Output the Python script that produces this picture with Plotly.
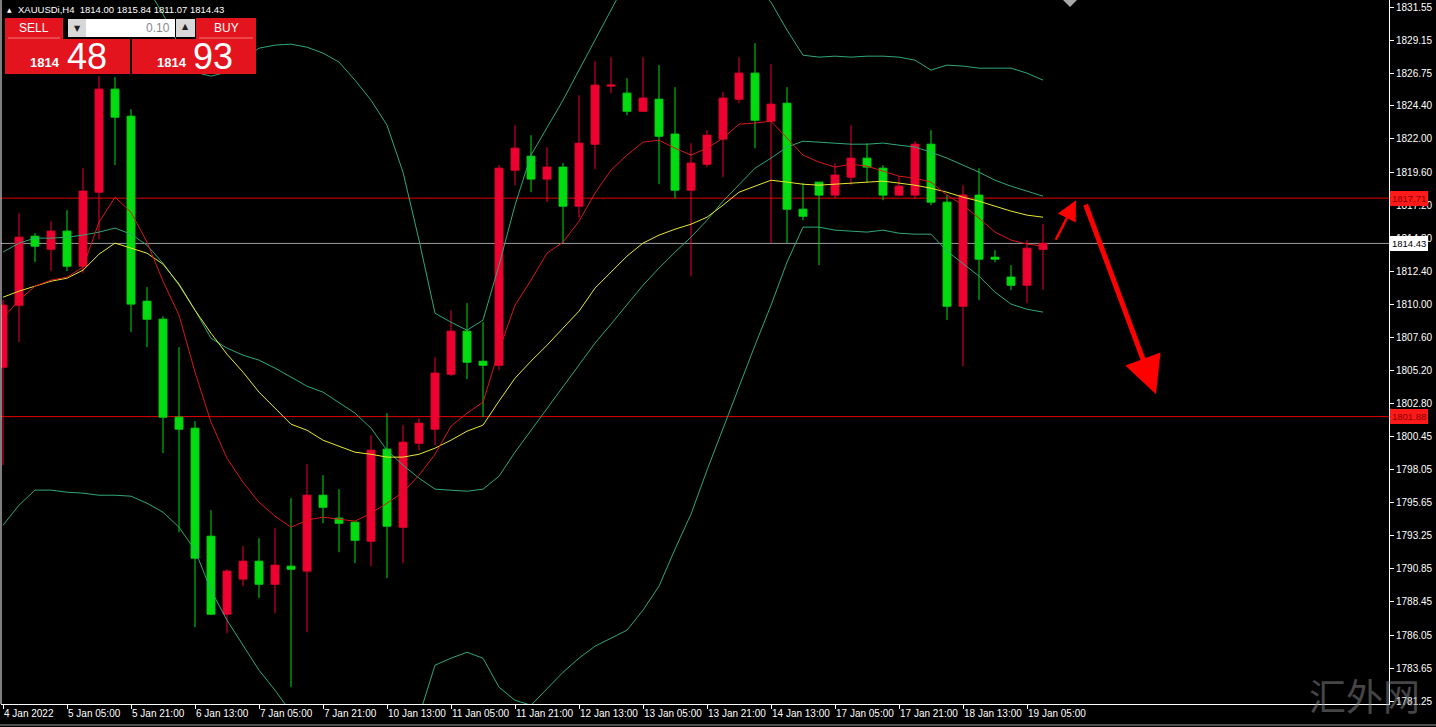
import plotly.graph_objects as go

# ---------------- data ----------------
symbol = "XAUUSDi,H4"
tick_idx = [0, 4, 8, 12, 16, 20, 24, 28, 32, 36, 40, 44, 48, 52, 56, 60, 64]
tick_text = ["4 Jan 2022", "5 Jan 05:00", "5 Jan 21:00", "6 Jan 13:00", "7 Jan 05:00",
             "7 Jan 21:00", "10 Jan 13:00", "11 Jan 05:00", "11 Jan 21:00", "12 Jan 13:00",
             "13 Jan 05:00", "13 Jan 21:00", "14 Jan 13:00", "17 Jan 05:00", "17 Jan 21:00",
             "18 Jan 13:00", "19 Jan 05:00"]

price_ticks = [1831.55, 1829.15, 1826.75, 1824.40, 1822.00, 1819.60, 1817.20, 1814.80,
               1812.40, 1810.00, 1807.60, 1805.20, 1802.80, 1800.45, 1798.05, 1795.65,
               1793.25, 1790.85, 1788.45, 1786.05, 1783.65, 1781.25]

open_ = [1805.46, 1809.95, 1814.95, 1814.01, 1815.32, 1812.78, 1818.14, 1825.61, 1823.65, 1810.24,
         1808.94, 1801.84, 1801.04, 1793.21, 1787.56, 1790.10, 1791.40, 1789.73, 1791.04, 1790.68,
         1796.18, 1794.52, 1794.23, 1792.85, 1799.52, 1793.86, 1799.95, 1800.97, 1804.95, 1808.07,
         1805.89, 1805.60, 1819.74, 1820.75, 1819.09, 1819.96, 1817.13, 1821.62, 1825.83, 1825.32,
         1824.01, 1824.88, 1822.35, 1818.29, 1820.17, 1821.99, 1824.88, 1826.77, 1823.29, 1824.59,
         1816.91, 1818.87, 1817.93, 1819.23, 1820.61, 1819.88, 1817.93, 1817.93, 1821.62, 1817.42,
         1809.88, 1817.93, 1813.43, 1811.99, 1811.40, 1814.00]
high = [1810.32, 1816.62, 1815.17, 1816.04, 1816.84, 1819.88, 1826.55, 1826.48, 1824.16, 1811.26,
        1809.16, 1806.91, 1801.55, 1795.10, 1790.82, 1792.49, 1793.07, 1793.79, 1795.97, 1798.43,
        1797.63, 1796.62, 1794.30, 1800.53, 1802.13, 1801.26, 1801.76, 1806.18, 1809.59, 1810.10,
        1808.72, 1820.10, 1823.00, 1822.27, 1821.40, 1820.25, 1825.17, 1827.64, 1827.93, 1826.41,
        1827.93, 1827.35, 1825.75, 1821.69, 1822.64, 1825.39, 1827.93, 1828.94, 1827.42, 1825.75,
        1818.80, 1818.87, 1820.25, 1823.00, 1821.69, 1820.10, 1819.30, 1821.84, 1822.64, 1817.93,
        1818.65, 1819.88, 1813.94, 1812.85, 1814.67, 1815.84]
low = [1798.36, 1807.27, 1813.07, 1812.42, 1812.42, 1812.27, 1814.74, 1820.10, 1808.00, 1806.91,
       1799.23, 1793.50, 1786.62, 1787.49, 1786.18, 1789.59, 1788.72, 1787.63, 1782.27, 1786.25,
       1794.15, 1792.05, 1791.26, 1791.04, 1790.17, 1791.26, 1799.44, 1799.81, 1804.81, 1804.59,
       1801.84, 1805.24, 1818.65, 1818.14, 1817.42, 1814.45, 1816.26, 1819.81, 1825.32, 1823.72,
       1823.94, 1818.72, 1817.71, 1812.05, 1819.96, 1819.23, 1824.59, 1821.33, 1814.45, 1814.45,
       1816.11, 1812.85, 1817.71, 1818.65, 1818.87, 1817.56, 1817.85, 1817.64, 1817.20, 1808.87,
       1805.53, 1810.32, 1813.07, 1811.04, 1810.10, 1811.07]
close = [1809.95, 1814.88, 1814.23, 1815.32, 1812.78, 1818.22, 1825.61, 1823.58, 1810.03, 1808.94,
         1801.84, 1800.97, 1791.62, 1787.56, 1790.68, 1791.40, 1789.73, 1791.11, 1790.82, 1796.18,
         1795.31, 1794.15, 1792.92, 1799.44, 1793.94, 1800.02, 1801.40, 1805.03, 1808.07, 1805.82,
         1805.60, 1819.88, 1821.33, 1819.09, 1819.96, 1817.13, 1821.69, 1825.90, 1825.90, 1824.01,
         1824.96, 1822.20, 1818.29, 1820.25, 1822.27, 1824.96, 1826.77, 1823.36, 1824.52, 1816.91,
         1816.40, 1817.93, 1819.38, 1820.61, 1819.96, 1817.93, 1818.58, 1821.62, 1817.42, 1809.88,
         1817.93, 1813.29, 1813.29, 1811.40, 1814.08, 1814.43]

ma_fast = [1809.01, 1810.32, 1811.33, 1811.77, 1811.98, 1812.71, 1815.97, 1817.78, 1816.69, 1814.52,
           1811.69, 1809.23, 1805.10, 1801.47, 1798.86, 1797.12, 1795.67, 1794.66, 1793.86, 1794.37,
           1794.59, 1794.44, 1794.30, 1794.88, 1795.60, 1796.40, 1797.63, 1799.15, 1801.18, 1802.13,
           1802.92, 1806.69, 1809.95, 1811.77, 1813.72, 1814.52, 1816.04, 1818.07, 1819.74, 1820.83,
           1821.77, 1821.91, 1821.33, 1820.83, 1821.33, 1822.06, 1823.07, 1823.15, 1823.29, 1822.06,
           1820.83, 1820.32, 1819.96, 1820.17, 1820.03, 1819.67, 1819.30, 1819.16, 1818.87, 1817.93,
           1817.20, 1816.26, 1815.25, 1814.67, 1814.38, 1814.23]
ma_slow = [1810.53, 1810.97, 1811.33, 1811.69, 1811.91, 1812.49, 1813.65, 1814.45, 1814.09, 1813.72,
           1812.93, 1811.48, 1809.59, 1807.92, 1806.40, 1805.10, 1803.65, 1802.49, 1801.33, 1800.89,
           1800.17, 1799.73, 1799.30, 1799.15, 1798.94, 1798.94, 1799.15, 1799.59, 1800.17, 1800.82,
           1801.26, 1803.00, 1804.66, 1805.90, 1807.05, 1808.29, 1809.52, 1811.19, 1812.35, 1813.51,
           1814.45, 1815.03, 1815.46, 1815.82, 1816.33, 1817.20, 1818.14, 1818.58, 1819.01, 1818.87,
           1818.72, 1818.65, 1818.72, 1818.80, 1818.87, 1818.94, 1818.80, 1818.65, 1818.43, 1818.14,
           1817.78, 1817.49, 1817.13, 1816.77, 1816.48, 1816.33]
bb_mid = [1813.80, 1814.45, 1814.81, 1814.81, 1814.88, 1815.03, 1815.25, 1815.54, 1815.10, 1814.30,
          1813.00, 1811.40, 1809.59, 1807.56, 1806.84, 1806.33, 1805.97, 1805.39, 1804.74, 1804.08,
          1803.65, 1802.92, 1802.13, 1801.04, 1799.44, 1798.36, 1797.42, 1796.62, 1796.55, 1796.47,
          1796.62, 1797.56, 1799.30, 1800.89, 1802.49, 1804.08, 1805.68, 1807.20, 1808.58, 1809.95,
          1811.40, 1812.64, 1813.80, 1814.88, 1816.11, 1817.49, 1818.72, 1819.88, 1820.61, 1821.41,
          1821.84, 1821.77, 1821.70, 1821.62, 1821.62, 1821.70, 1821.55, 1821.41, 1821.04, 1820.61,
          1820.10, 1819.59, 1819.01, 1818.58, 1818.22, 1817.85]
bb_up = [1833.58, 1833.44, 1833.07, 1833.07, 1833.36, 1833.73, 1834.31, 1834.89, 1834.09, 1833.00,
         1831.05, 1828.80, 1826.84, 1826.55, 1826.84, 1827.71, 1828.58, 1828.80, 1828.87, 1828.65,
         1828.22, 1827.57, 1826.26, 1824.81, 1823.00, 1819.59, 1814.67, 1809.37, 1808.72, 1808.14,
         1808.87, 1812.85, 1817.20, 1820.83, 1822.86, 1824.81, 1826.99, 1829.16, 1831.34, 1833.51,
         1834.96, 1835.68, 1835.32, 1834.96, 1834.60, 1834.23, 1833.87, 1833.15, 1831.91, 1829.89,
         1828.07, 1827.93, 1828.00, 1827.93, 1828.00, 1828.00, 1827.93, 1827.71, 1826.99, 1827.35,
         1827.28, 1827.13, 1827.13, 1827.13, 1826.77, 1826.26]
bb_low = [1794.01, 1795.46, 1796.55, 1796.55, 1796.40, 1796.33, 1796.18, 1796.18, 1796.11, 1795.60,
          1794.95, 1793.86, 1792.20, 1789.30, 1787.12, 1785.31, 1783.50, 1782.05, 1780.45, 1779.51,
          1779.08, 1778.28, 1777.99, 1777.27, 1775.89, 1777.12, 1780.16, 1783.86, 1784.37, 1784.80,
          1784.37, 1782.27, 1781.32, 1780.96, 1782.12, 1783.35, 1784.37, 1785.24, 1785.82, 1786.40,
          1787.85, 1789.59, 1792.27, 1794.81, 1797.99, 1801.04, 1803.94, 1807.05, 1809.95, 1813.07,
          1815.61, 1815.61, 1815.39, 1815.32, 1815.25, 1815.39, 1815.17, 1815.10, 1815.10, 1813.87,
          1812.93, 1812.06, 1810.90, 1810.03, 1809.66, 1809.45]

level_high = 1817.71
level_low = 1801.88
bid_price = 1814.43
sell_quote = ("1814", "48")
buy_quote = ("1814", "93")
lot_size = "0.10"
# arrow overlays: (tail bar, tail price) -> (head bar, head price)
arrow_up = (65.75, 1814.59, 67.06, 1817.56)
arrow_down = (67.63, 1817.35, 72.06, 1803.50)

n = len(close)
xs = list(range(n))

# ---------------- styles ----------------
UP = "#ee0030"
DOWN = "#00dc10"
BB = "#2fa878"
FONT = "Liberation Sans"
PANEL_RED = "#e3141e"

# plot area in page pixels
L_PX, T_PX, W_PX, H_PX = 1, 0, 1388, 704
def px(x):
    return (x - L_PX) / W_PX
def py(y):
    return 1 - (y - T_PX) / H_PX

fig = go.Figure()

for vals, col in [(bb_up, BB), (bb_mid, BB), (bb_low, BB), (ma_slow, "#e8e830"), (ma_fast, "#d81818")]:
    fig.add_trace(go.Scatter(x=xs, y=vals, mode="lines", line=dict(color=col, width=1),
                             hoverinfo="skip", showlegend=False))

fig.add_trace(go.Candlestick(
    x=xs, open=open_, high=high, low=low, close=close,
    increasing=dict(line=dict(color=UP, width=1), fillcolor=UP),
    decreasing=dict(line=dict(color=DOWN, width=1), fillcolor=DOWN),
    hoverinfo="skip", showlegend=False))

shapes = []
ann = []

# horizontal levels
for lv, col in [(level_high, "#e00000"), (level_low, "#e00000"), (bid_price, "#9a9aa2")]:
    shapes.append(dict(type="line", xref="paper", yref="y", x0=0, x1=1, y0=lv, y1=lv,
                       line=dict(color=col, width=1), layer="below"))

# left border and window bottom line
shapes.append(dict(type="line", xref="paper", yref="paper", x0=0, x1=0, y0=0, y1=1,
                   line=dict(color="#ffffff", width=1)))
shapes.append(dict(type="line", xref="paper", yref="paper", x0=px(0), x1=px(1436), y0=py(725), y1=py(725),
                   line=dict(color="#9a9a9a", width=1)))
# shift marker
shapes.append(dict(type="path", xref="paper", yref="paper",
                   path=f"M {px(1063)} {py(0)} L {px(1077)} {py(0)} L {px(1070)} {py(7)} Z",
                   fillcolor="#a8a8a8", line=dict(width=0)))

def rect(x0, y0, x1, y1, fill, line=None):
    shapes.append(dict(type="rect", xref="paper", yref="paper", x0=px(x0), x1=px(x1),
                       y0=py(y1), y1=py(y0), fillcolor=fill,
                       line=dict(width=1 if line else 0, color=line or fill), layer="above"))

def text(x, y, s, size, color, anchor="center", family=FONT):
    ann.append(dict(xref="paper", yref="paper", x=px(x), y=py(y), text=s, showarrow=False,
                    xanchor=anchor, yanchor="middle", font=dict(family=family, size=size, color=color)))

# trading panel
rect(5, 18, 63, 39, PANEL_RED)
rect(196, 18, 256, 39, PANEL_RED)
rect(5, 39, 130, 74, PANEL_RED)
rect(132, 39, 256, 74, PANEL_RED)
shapes.append(dict(type="line", xref="paper", yref="paper", x0=px(8), x1=px(60), y0=py(38), y1=py(38),
                   line=dict(color="#f07a7a", width=1)))
shapes.append(dict(type="line", xref="paper", yref="paper", x0=px(199), x1=px(253), y0=py(38), y1=py(38),
                   line=dict(color="#f07a7a", width=1)))
rect(68, 19, 86, 37, "#d8d8d8")
rect(86, 19, 175, 37, "#ffffff")
rect(176, 19, 195, 37, "#d8d8d8")
text(77, 29, "▼", 8, "#202020", family="DejaVu Sans")
text(185.5, 27, "▲", 8, "#202020", family="DejaVu Sans")
text(172, 27.5, lot_size, 12, "#8a8a8a", anchor="right")
text(34, 27.5, "SELL", 12, "#ffffff")
text(226, 27.5, "BUY", 12, "#ffffff")
text(45, 62, f"<b>{sell_quote[0]}</b>", 13, "#ffffff")
text(87, 56, sell_quote[1], 36, "#ffffff")
text(172, 62, f"<b>{buy_quote[0]}</b>", 13, "#ffffff")
text(213, 56, buy_quote[1], 36, "#ffffff")

# header line
ohlc_txt = f"{open_[-1]:.2f} {high[-1]:.2f} {low[-1]:.2f} {close[-1]:.2f}"
text(5, 9, "▲", 6, "#ffffff", anchor="left", family="DejaVu Sans")
text(16, 9, f"{symbol}  {ohlc_txt}", 9.5, "#ffffff", anchor="left")

# right axis price boxes
for lv, bg, fg in [(level_high, "#ff1a1a", "#8a0000"), (level_low, "#ff1a1a", "#8a0000"),
                   (bid_price, "#ffffff", "#000000")]:
    ann.append(dict(xref="paper", yref="y", x=1, y=lv, xanchor="left", yanchor="middle", xshift=1,
                    text=f"{lv:.2f}", showarrow=False, bgcolor=bg, bordercolor=bg, borderpad=1,
                    font=dict(family=FONT, size=9.5, color=fg)))

# forecast arrows
for (tx, ty, hx, hy), w, s in [(arrow_up, 2.5, 1.6), (arrow_down, 5, 1.5)]:
    ann.append(dict(x=hx, y=hy, ax=tx, ay=ty, xref="x", yref="y", axref="x", ayref="y",
                    text="", showarrow=True, arrowhead=2, arrowsize=s, arrowwidth=w,
                    arrowcolor="#ff0000", standoff=0, startstandoff=0))

# watermark
ann.append(dict(xref="paper", yref="paper", x=px(1364), y=py(695), text="汇外网", showarrow=False,
                xanchor="center", yanchor="middle",
                font=dict(family="Noto Sans CJK SC", size=37, color="rgba(140,140,140,0.5)")))

fig.update_layout(
    width=1436, height=727,
    margin=dict(l=L_PX, r=1436 - L_PX - W_PX, t=T_PX, b=727 - T_PX - H_PX),
    paper_bgcolor="#000000", plot_bgcolor="#000000",
    showlegend=False, hovermode=False,
    shapes=shapes, annotations=ann,
    xaxis=dict(range=[-0.125, 86.625], rangeslider=dict(visible=False), showgrid=False,
               zeroline=False, showline=True, linecolor="#ffffff", linewidth=1,
               ticks="outside", ticklen=4, tickcolor="#ffffff", tickvals=tick_idx,
               ticktext=tick_text, ticklabelposition="outside right", tickangle=0,
               automargin=False,
               tickfont=dict(family=FONT, size=10, color="#ffffff")),
    yaxis=dict(side="right", range=[1781.05, 1832.07], showgrid=False, zeroline=False,
               showline=True, linecolor="#ffffff", linewidth=1, ticks="outside", ticklen=4,
               tickcolor="#ffffff", tickvals=price_ticks, automargin=False,
               ticktext=[f"{v:.2f}" for v in price_ticks],
               tickfont=dict(family=FONT, size=10, color="#ffffff")),
)

fig.write_html("out.html", config={"displayModeBar": False},
               post_script="document.body.style.margin='0';document.body.style.background='#000';")
